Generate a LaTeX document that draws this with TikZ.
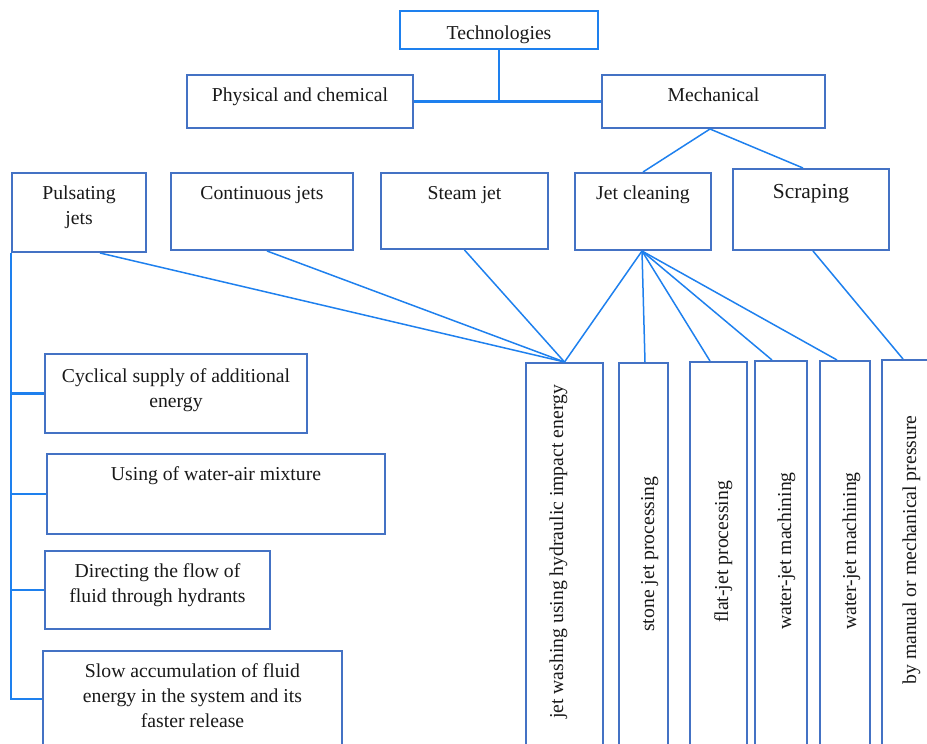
\documentclass[tikz,border=0pt]{standalone}
\usepackage{fontspec}
\setmainfont{Liberation Serif}
\usetikzlibrary{calc}
\definecolor{lineblue}{RGB}{30,128,238}
\definecolor{boxblue}{RGB}{68,114,196}
\definecolor{txtcol}{RGB}{25,25,25}
\begin{document}
\begin{tikzpicture}[x=1pt,y=-1pt,
  box/.style={draw=boxblue,line width=2pt,inner sep=0pt},
  tbox/.style={draw=lineblue,line width=2pt,inner sep=0pt},
  lbl/.style={inner sep=0pt,text=txtcol,font=\fontsize{19.7}{25}\selectfont,align=center},
  conn/.style={draw=lineblue,line width=1.5pt},
  bus/.style={draw=lineblue,line width=2.2pt}]
\useasboundingbox (0,0) rectangle (927,744);
% top level
\node[tbox,minimum width=198pt,minimum height=38pt] (tech) at (499,30) {};
\node[lbl,anchor=base] (techT) at (499,39) {Technologies};
\node[box,minimum width=226pt,minimum height=53pt] (phys) at (300,101.5) {};
\node[lbl,anchor=base] (physT) at (300,101) {Physical and chemical};
\node[box,minimum width=223pt,minimum height=53pt] (mech) at (713.5,101.5) {};
\node[lbl,anchor=base] (mechT) at (713.5,101) {Mechanical};
% second level
\node[box,minimum width=134pt,minimum height=79pt] (puls) at (79,212.5) {};
\node[lbl,anchor=north] (pulsT) at (79,185.5) {Pulsating\\jets};
\node[box,minimum width=182pt,minimum height=77pt] (cont) at (262,211.5) {};
\node[lbl,anchor=base] (contT) at (262,199) {Continuous jets};
\node[box,minimum width=167pt,minimum height=76pt] (steam) at (464.5,211) {};
\node[lbl,anchor=base] (steamT) at (464.5,199) {Steam jet};
\node[box,minimum width=136pt,minimum height=77pt] (jetc) at (643,211.5) {};
\node[lbl,anchor=base] (jetcT) at (643,199) {Jet cleaning};
\node[box,minimum width=156pt,minimum height=81pt] (scrap) at (811,209.5) {};
\node[lbl,anchor=base,font=\fontsize{21.4}{25}\selectfont] (scrapT) at (811,198) {Scraping};
% left column
\node[box,minimum width=262pt,minimum height=79pt] (cyc) at (176,393.5) {};
\node[lbl,anchor=north] (cycT) at (176,368.5) {Cyclical supply of additional\\energy};
\node[box,minimum width=338pt,minimum height=80pt] (using) at (216,494) {};
\node[lbl,anchor=base] (usingT) at (216,480) {Using of water-air mixture};
\node[box,minimum width=225pt,minimum height=78pt] (dir) at (157.5,590) {};
\node[lbl,anchor=north] (dirT) at (157.5,563.5) {Directing the flow of\\fluid through hydrants};
\node[box,minimum width=299pt,minimum height=109pt] (slow) at (192.5,705.5) {};
\node[lbl,anchor=north] (slowT) at (192.5,663.5) {Slow accumulation of fluid\\energy in the system and its\\faster release};
% vertical boxes
\node[box,minimum width=77pt,minimum height=397pt] (jw) at (564.5,561.5) {};
\node[lbl,anchor=base,rotate=90] (jwT) at (563,552) {jet washing using hydraulic impact energy};
\node[box,minimum width=49pt,minimum height=397pt] (stone) at (643.5,561.5) {};
\node[lbl,anchor=base,rotate=90] (stoneT) at (654,554) {stone jet processing};
\node[box,minimum width=57pt,minimum height=398pt] (flat) at (718.5,561) {};
\node[lbl,anchor=base,rotate=90] (flatT) at (728,552) {flat-jet processing};
\node[box,minimum width=52pt,minimum height=399pt] (wa) at (781,560.5) {};
\node[lbl,anchor=base,rotate=90] (waT) at (791,551) {water-jet machining};
\node[box,minimum width=50pt,minimum height=399pt] (wb) at (845,560.5) {};
\node[lbl,anchor=base,rotate=90] (wbT) at (856,551) {water-jet machining};
\node[box,minimum width=63pt,minimum height=400pt] (man) at (913.5,560) {};
\node[lbl,anchor=base,rotate=90] (manT) at (916,550) {by manual or mechanical pressure};
% connectors top
\draw[bus] (tech.south) -- (tech.south |- phys.east);
\draw[bus] (phys.east) -- (mech.west);
\coordinate (mechB) at ([xshift=-3.5pt]mech.south);
\draw[conn] (mechB) -- (jetc.north);
\draw[conn] (mechB) -- ([xshift=-8pt]scrap.north);
% to jet washing
\draw[conn] ([xshift=21pt]puls.south) -- (jw.north);
\draw[conn] ([xshift=5pt]cont.south) -- (jw.north);
\draw[conn] (steam.south) -- (jw.north);
% from jet cleaning
\coordinate (jcB) at ([xshift=-1pt]jetc.south);
\draw[conn] (jcB) -- (jw.north);
\draw[conn] (jcB) -- ([xshift=1.5pt]stone.north);
\draw[conn] (jcB) -- ([xshift=-8.5pt]flat.north);
\draw[conn] (jcB) -- ([xshift=-9pt]wa.north);
\draw[conn] (jcB) -- ([xshift=-8pt]wb.north);
\draw[conn] ([xshift=2pt]scrap.south) -- ([xshift=-10.5pt]man.north);
% left bus
\coordinate (slowB) at ([yshift=6.5pt]slow.west);
\draw[bus] (puls.south west) -- (puls.south west |- slowB) -- (slowB);
\draw[bus] (puls.south west |- cyc.west) -- (cyc.west);
\draw[bus] (puls.south west |- using.west) -- (using.west);
\draw[bus] (puls.south west |- dir.west) -- (dir.west);
\end{tikzpicture}
\end{document}
